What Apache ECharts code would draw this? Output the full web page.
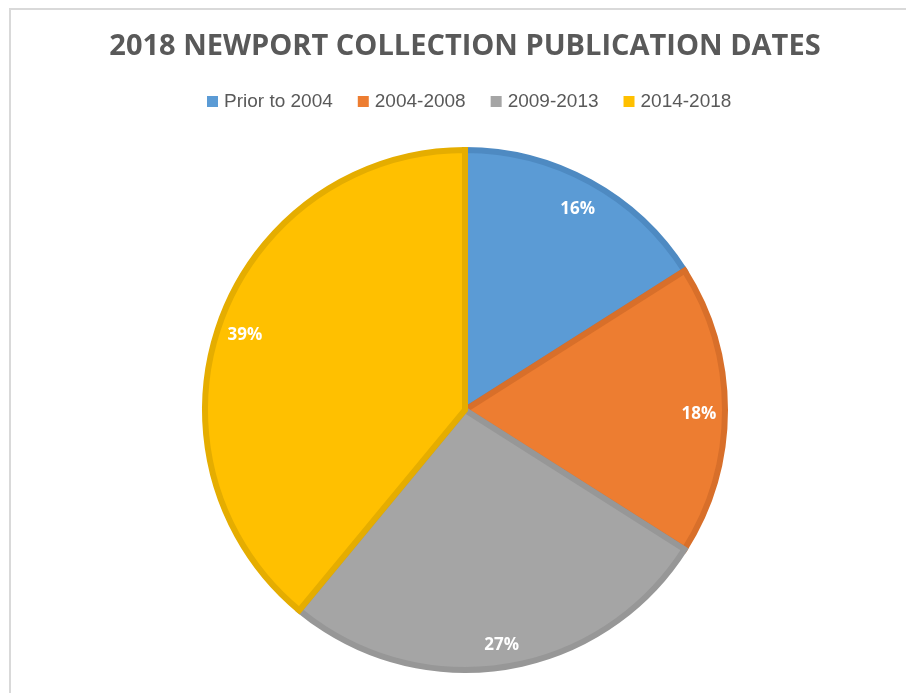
<!DOCTYPE html>
<html>
<head>
<meta charset="utf-8">
<style>
  html, body { margin: 0; padding: 0; background: #ffffff; }
  #chart { width: 906px; height: 693px; }
</style>
<script src="https://cdn.jsdelivr.net/npm/echarts@6/dist/echarts.min.js"></script>
</head>
<body>
<div id="chart"></div>
<script>
// Share of the collection by publication period (percent)
const categories = ['Prior to 2004', '2004-2008', '2009-2013', '2014-2018'];
const shares = [16, 18, 27, 39];
const fillColors = ['#5b9bd5', '#ed7d31', '#a5a5a5', '#ffc000'];
const edgeColors = ['#4e8ac2', '#d86f2a', '#979797', '#e5ad00'];

const chart = echarts.init(document.getElementById('chart'), null, { renderer: 'canvas' });

const sliceData = categories.map((name, i) => ({
  name: name,
  value: shares[i],
  itemStyle: { color: fillColors[i], borderColor: edgeColors[i] }
}));

const labelData = categories.map((name, i) => ({ name: name, value: shares[i] }));

const center = [465, 410];

chart.setOption({
  backgroundColor: '#ffffff',
  animation: false,
  title: {
    text: '2018 NEWPORT COLLECTION PUBLICATION DATES',
    left: 465,
    top: 32,
    padding: 0,
    textAlign: 'center',
    textStyle: {
      fontFamily: 'Open Sans',
      fontWeight: 'bold',
      fontSize: 29,
      color: '#595959'
    }
  },
  legend: {
    data: categories,
    left: 207,
    top: 92,
    padding: 0,
    itemWidth: 11,
    itemHeight: 11,
    itemGap: 25,
    icon: 'rect',
    selectedMode: false,
    itemStyle: { borderWidth: 0 },
    textStyle: {
      fontFamily: 'Liberation Sans',
      fontSize: 19,
      color: '#595959',
      padding: [0, 0, 0, 1]
    }
  },
  graphic: [{
    type: 'rect',
    shape: { x: 10, y: 9, width: 920, height: 700 },
    style: { fill: 'none', stroke: '#d9d9d9', lineWidth: 2 },
    silent: true,
    z: 0
  }],
  series: [
    {
      type: 'pie',
      center: center,
      radius: [0, 260],
      startAngle: 90,
      clockwise: true,
      silent: true,
      label: { show: false },
      labelLine: { show: false },
      itemStyle: { borderWidth: 6, borderJoin: 'miter' },
      emphasis: { disabled: true },
      data: sliceData
    },
    {
      // transparent ring that only carries the percentage labels
      type: 'pie',
      center: [465, 414],
      radius: [199, 263],
      startAngle: 90,
      clockwise: true,
      silent: true,
      itemStyle: { color: 'rgba(0,0,0,0)', borderWidth: 0 },
      label: {
        show: true,
        position: 'inside',
        formatter: '{c}%',
        fontFamily: 'Open Sans',
        fontWeight: 'bold',
        fontSize: 17,
        color: '#ffffff'
      },
      labelLine: { show: false },
      emphasis: { disabled: true },
      data: labelData
    }
  ]
});
</script>
</body>
</html>
